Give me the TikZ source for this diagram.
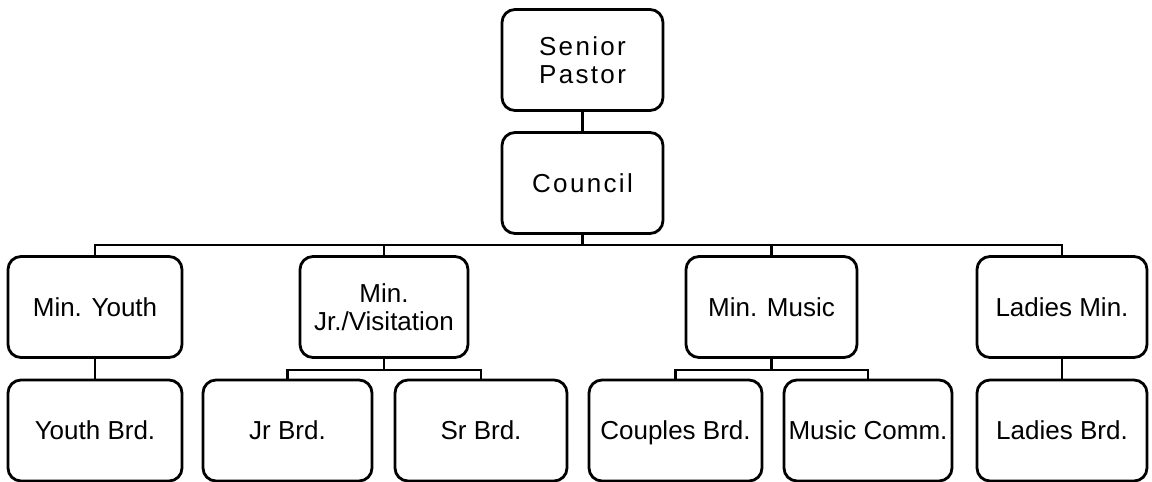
\documentclass[tikz,border=0pt]{standalone}
\usepackage{fontspec}
\setmainfont{Liberation Sans}
\begin{document}
\begin{tikzpicture}[x=1pt,y=-1pt,
  unit/.style={draw=black,line width=2.8pt,rounded corners=13pt,minimum width=#1,
    minimum height=101pt,inner sep=0pt,align=center,text depth=0pt,
    font=\fontsize{26}{28}\selectfont},
  unit/.default=172pt,
  spaced/.style={font=\fontsize{26}{28}\selectfont\addfontfeature{LetterSpace=9}},
  link/.style={line width=2.8pt,line cap=rect}]
\useasboundingbox (0,0) rectangle (1152,482);
% top of the chart
\node[unit=161pt,spaced] (pastor) at (582.5,60) {Senior\\Pastor};
\node[unit=161pt,spaced] (council) at (582.5,183) {Council};
% ministries
\node[unit=174pt] (youth) at (95,307) {Min. Youth};
\node[unit=168pt] (jrvis) at (384,307) {Min.\\Jr./Visitation};
\node[unit=171pt] (music) at (771.5,307) {Min. Music};
\node[unit=170pt] (ladies) at (1062,307) {Ladies Min.};
% boards
\node[unit=174pt] (youthbrd) at (95,430.5) {Youth Brd.};
\node[unit=169pt] (jrbrd) at (287.5,430.5) {Jr Brd.};
\node[unit=172pt] (srbrd) at (481,430.5) {Sr Brd.};
\node[unit=173pt] (couples) at (675.5,430.5) {Couples Brd.};
\node[unit=168pt] (musiccomm) at (868,430.5) {Music Comm.};
\node[unit=170pt] (ladiesbrd) at (1062,430.5) {Ladies Brd.};
% connectors
\coordinate (bus) at (0,245);
\coordinate (jrbus) at (0,370);
\coordinate (mubus) at (0,370);
\draw[link] (pastor) -- (council);
\draw[link] (council.south) -- (council.south |- bus);
\draw[link] (youth.north) -- (youth.north |- bus) -- (ladies.north |- bus) -- (ladies.north);
\draw[link] (jrvis.north) -- (jrvis.north |- bus);
\draw[link] (music.north) -- (music.north |- bus);
\draw[link] (youth) -- (youthbrd);
\draw[link] (ladies) -- (ladiesbrd);
\draw[link] (jrvis.south) -- (jrvis.south |- jrbus);
\draw[link] (jrbrd.north) -- (jrbrd.north |- jrbus) -- (srbrd.north |- jrbus) -- (srbrd.north);
\draw[link] (music.south) -- (music.south |- mubus);
\draw[link] (couples.north) -- (couples.north |- mubus) -- (musiccomm.north |- mubus) -- (musiccomm.north);
\end{tikzpicture}
\end{document}
